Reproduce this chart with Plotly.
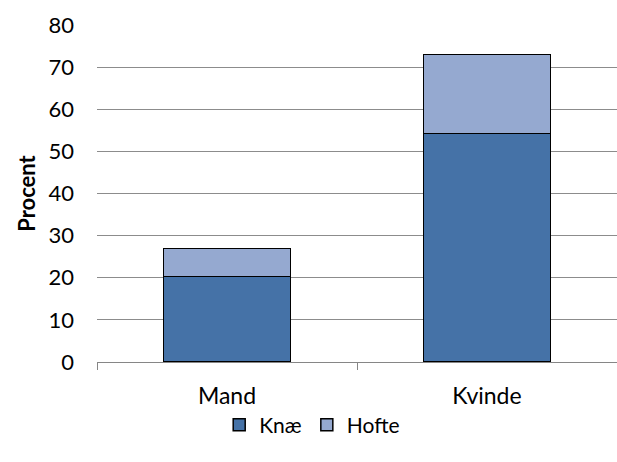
import plotly.graph_objects as go

categories = ["Mand", "Kvinde"]
knae = [20.3, 54.3]
hofte = [6.6, 18.7]
y_ticks = [0, 10, 20, 30, 40, 50, 60, 70, 80]

font_family = "Lato, 'Open Sans', sans-serif"

fig = go.Figure()
fig.add_trace(go.Bar(
    name="Knæ", x=categories, y=knae,
    marker=dict(color="#4572A7", line=dict(color="#000000", width=1.5)),
))
fig.add_trace(go.Bar(
    name="Hofte", x=categories, y=hofte,
    marker=dict(color="#95A9D0", line=dict(color="#000000", width=1.5)),
))

fig.update_layout(
    barmode="stack",
    bargap=0.51,
    width=617, height=462,
    margin=dict(l=97, r=0, t=25, b=100),
    paper_bgcolor="white", plot_bgcolor="white",
    font=dict(family=font_family, size=22, color="#000000"),
    legend=dict(
        orientation="h", x=0.235, xanchor="left", y=-0.187, yanchor="middle",
        font=dict(size=21), itemwidth=30, traceorder="normal",
    ),
    xaxis=dict(
        showline=True, linecolor="#868686", linewidth=1.3,
        ticks="outside", tickson="boundaries", ticklen=7, tickcolor="#868686",
        showgrid=False, tickfont=dict(size=23), ticklabelstandoff=13,
    ),
    yaxis=dict(
        range=[0, 80], tickvals=y_ticks, showgrid=True, gridcolor="#8C8C8C", gridwidth=1.3,
        zeroline=False, showline=False, ticks="", tickfont=dict(size=22),
        ticklabelstandoff=22,
        title=dict(text="<b>Procent</b>", font=dict(size=22), standoff=6),
    ),
)

fig.write_html("out.html")
